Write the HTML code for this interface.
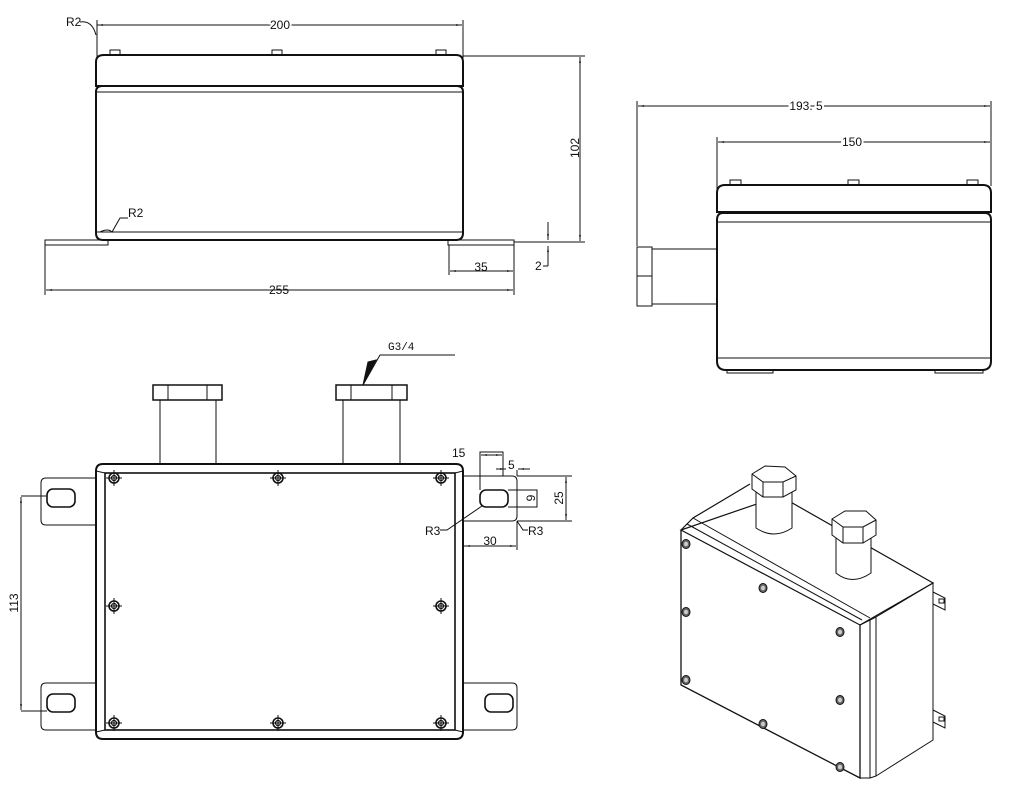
<!DOCTYPE html>
<html><head><meta charset="utf-8"><style>
html,body{margin:0;padding:0;background:#fff;}
svg{display:block}
text{font-family:"Liberation Sans",sans-serif;font-size:12px;fill:#111}
</style></head><body>
<svg width="1018" height="792" viewBox="0 0 1018 792" xmlns="http://www.w3.org/2000/svg">
<defs>
<marker id="a" viewBox="0 0 10 10" refX="10" refY="5" markerWidth="8" markerHeight="6" orient="auto-start-reverse"><path d="M0,3.5L10,5L0,6.5z" fill="#111"/></marker>
<g id="scr"><circle r="5" fill="none" stroke="#111" stroke-width="1.6"/><circle r="2.5" fill="none" stroke="#111" stroke-width="1.2"/><path d="M-8,0H8M0,-8V8" stroke="#111" stroke-width="1"/></g>
<g id="iscr"><ellipse rx="4" ry="4.5" fill="#666" stroke="#111"/><ellipse rx="2" ry="2.3" fill="#ccc"/></g>
</defs>
<g fill="none" stroke="#111" stroke-width="1">
<!-- ===== TOP-LEFT VIEW ===== -->
<line x1="97" y1="25" x2="462" y2="25" marker-start="url(#a)" marker-end="url(#a)"/>
<line x1="97" y1="20" x2="97" y2="58"/><line x1="463" y1="20" x2="463" y2="58"/>
<rect x="110" y="50" width="10" height="5"/><rect x="272" y="50" width="10" height="5"/><rect x="436" y="50" width="10" height="5"/>
<path d="M104,55H456Q463,55 463,62V86H96V62Q96,55 104,55Z" stroke-width="2"/>
<path d="M102,86H457Q463,86 463,92V233Q463,240 456,240H103Q96,240 96,233V92Q96,86 102,86Z" stroke-width="2"/>
<line x1="96" y1="92" x2="463" y2="92"/><line x1="96" y1="232" x2="463" y2="232"/>
<path d="M45,240H108V245H45Z"/><path d="M448,240H514V245H448Z"/>
<line x1="45" y1="245" x2="45" y2="295"/><line x1="514" y1="245" x2="514" y2="295"/>
<line x1="46" y1="290" x2="513" y2="290" marker-start="url(#a)" marker-end="url(#a)"/>
<line x1="449" y1="245" x2="449" y2="275"/>
<line x1="450" y1="271" x2="513" y2="271" marker-start="url(#a)" marker-end="url(#a)"/>
<line x1="463" y1="56" x2="585" y2="56"/><line x1="514" y1="242" x2="585" y2="242"/>
<line x1="580" y1="57" x2="580" y2="241" marker-start="url(#a)" marker-end="url(#a)"/>
<line x1="548" y1="222" x2="548" y2="240" marker-end="url(#a)"/>
<line x1="548" y1="266" x2="548" y2="246" marker-end="url(#a)"/>
<line x1="543" y1="266" x2="548" y2="266"/>
<path d="M80,22Q92,20 96,35"/>
<path d="M100,232Q108,228 112,232L120,218H128"/>
<!-- ===== RIGHT SIDE VIEW ===== -->
<line x1="638" y1="106" x2="990" y2="106" marker-start="url(#a)" marker-end="url(#a)"/>
<line x1="637" y1="101" x2="637" y2="246"/><line x1="991" y1="101" x2="991" y2="186"/>
<line x1="718" y1="142" x2="990" y2="142" marker-start="url(#a)" marker-end="url(#a)"/>
<line x1="717" y1="137" x2="717" y2="190"/>
<rect x="730" y="180" width="11" height="5"/><rect x="848" y="180" width="11" height="5"/><rect x="967" y="180" width="11" height="5"/>
<path d="M725,185H983Q991,185 991,193V212H717V193Q717,185 725,185Z" stroke-width="2"/>
<path d="M723,213H985Q991,213 991,220V361Q991,370 982,370H726Q717,370 717,361V220Q717,213 723,213Z" stroke-width="2"/>
<line x1="717" y1="222" x2="991" y2="222"/><line x1="717" y1="358" x2="991" y2="358"/>
<path d="M727,370V373H773V370M935,370V373H983V370"/>
<rect x="637" y="247" width="15" height="59"/><line x1="637" y1="276" x2="652" y2="276"/>
<path d="M652,249H717M652,304H717"/>
<!-- ===== BOTTOM-LEFT VIEW ===== -->
<path d="M160,463V400H216V463M343,463V400H400V463"/>
<rect x="153" y="385" width="69" height="15" stroke-width="1.5"/><path d="M168,385V400M207,385V400"/>
<rect x="336" y="385" width="71" height="15" stroke-width="1.5"/><path d="M351,385V400M392,385V400"/>
<path d="M455,355H380L363,385"/>
<path d="M376,360L363,385L368,362Z" fill="#111"/>
<path d="M103,464H456Q463,464 463,471V732Q463,739 456,739H103Q96,739 96,732V471Q96,464 103,464Z" stroke-width="2"/>
<rect x="105" y="473" width="350" height="257" stroke-width="1.6"/>
<path d="M96,471L105,473M463,471L455,473M96,732L105,730M463,732L455,730"/>
<path d="M96,478H46Q41,478 41,483V520Q41,525 46,525H96"/>
<path d="M96,683H46Q41,683 41,688V725Q41,730 46,730H96"/>
<path d="M463,476H512Q517,476 517,481V516Q517,521 512,521H463"/>
<path d="M463,683H512Q517,683 517,688V725Q517,730 512,730H463"/>
<rect x="47" y="489" width="28" height="18" rx="6" stroke-width="1.6"/>
<rect x="47" y="694" width="28" height="18" rx="6" stroke-width="1.6"/>
<rect x="480" y="490" width="28" height="17" rx="6" stroke-width="1.6"/>
<rect x="485" y="694" width="28" height="18" rx="6" stroke-width="1.6"/>
<line x1="21" y1="497" x2="21" y2="710" marker-start="url(#a)" marker-end="url(#a)"/>
<path d="M21,496H47M21,711H47"/>
<path d="M480,490V452H503V476"/><line x1="481" y1="455" x2="502" y2="455" marker-start="url(#a)" marker-end="url(#a)"/>
<path d="M517,476V470"/><line x1="496" y1="469" x2="506" y2="469" marker-end="url(#a)"/><line x1="530" y1="469" x2="518" y2="469" marker-end="url(#a)"/>
<path d="M508,490H537V507H508"/>
<path d="M517,476H572M517,521H572"/>
<line x1="566" y1="477" x2="566" y2="520" marker-start="url(#a)" marker-end="url(#a)"/>
<path d="M517,521V550"/><line x1="464" y1="546" x2="516" y2="546" marker-start="url(#a)" marker-end="url(#a)"/>
<path d="M440,530H447L482,506"/><path d="M517,521L523,530H528"/>
<!-- ===== ISO VIEW ===== -->
<path d="M681,530L693,518L750,484M780,496L933,583L860,625L681,530Z" stroke-width="1.2"/>
<path d="M693,518L870,618" /><path d="M687,524L862,620"/>
<path d="M681,530V685L860,778V625" stroke-width="1.3"/>
<path d="M860,625L870,620V778L860,778M870,620L876,617V776L870,778"/>
<path d="M876,617L933,583V740L876,776"/>
<path d="M933,592L945,598V610L933,604M933,710L945,716V728L933,722"/>
<rect x="939" y="599" width="5" height="4"/><rect x="939" y="717" width="5" height="4"/>
<path d="M756,475V485M766,471V481"/>
<path d="M756,488V528Q774,540 792,528V488" fill="#fff"/>
<path d="M752,474L765,466L785,467L796,476V490L783,497L763,497L752,489Z" fill="#fff"/>
<path d="M752,474L763,482L783,482L796,476M763,482V497M783,482V497"/>
<path d="M836,532V573Q852,586 871,573V532" fill="#fff"/>
<path d="M832,519L845,511L866,511L876,520V535L863,543L843,543L832,535Z" fill="#fff"/>
<path d="M832,519L843,527L863,527L876,520M843,527V543M863,527V543"/>
</g>
<g>
<use href="#scr" x="114" y="478"/><use href="#scr" x="278" y="478"/><use href="#scr" x="441" y="478"/>
<use href="#scr" x="114" y="606"/><use href="#scr" x="441" y="606"/>
<use href="#scr" x="114" y="723"/><use href="#scr" x="278" y="723"/><use href="#scr" x="441" y="723"/>
<use href="#iscr" x="686" y="544"/><use href="#iscr" x="763" y="588"/><use href="#iscr" x="840" y="632"/>
<use href="#iscr" x="686" y="612"/><use href="#iscr" x="840" y="700"/>
<use href="#iscr" x="686" y="680"/><use href="#iscr" x="763" y="724"/><use href="#iscr" x="840" y="767"/>
</g>
<g>
<text x="280" y="29" text-anchor="middle" style="paint-order:stroke" stroke="#fff" stroke-width="4">200</text>
<text x="66" y="26">R2</text>
<text x="128" y="217">R2</text>
<text x="279" y="294" text-anchor="middle">255</text>
<text x="481" y="271" text-anchor="middle">35</text>
<text x="535" y="270">2</text>
<text transform="translate(579,148) rotate(-90)" text-anchor="middle">102</text>
<text x="806" y="110" text-anchor="middle" style="paint-order:stroke" stroke="#fff" stroke-width="4">193. 5</text>
<text x="852" y="146" text-anchor="middle" style="paint-order:stroke" stroke="#fff" stroke-width="4">150</text>
<text x="388" y="350" style="font-family:'Liberation Mono',monospace;font-size:11px">G3/4</text>
<text transform="translate(18,603) rotate(-90)" text-anchor="middle">113</text>
<text x="452" y="457">15</text>
<text x="508" y="469">5</text>
<text transform="translate(535,498) rotate(-90)" text-anchor="middle" font-size="11">9</text>
<text transform="translate(563,498) rotate(-90)" text-anchor="middle">25</text>
<text x="490" y="545" text-anchor="middle">30</text>
<text x="425" y="535">R3</text>
<text x="528" y="535">R3</text>
</g>
</svg>
</body></html>
